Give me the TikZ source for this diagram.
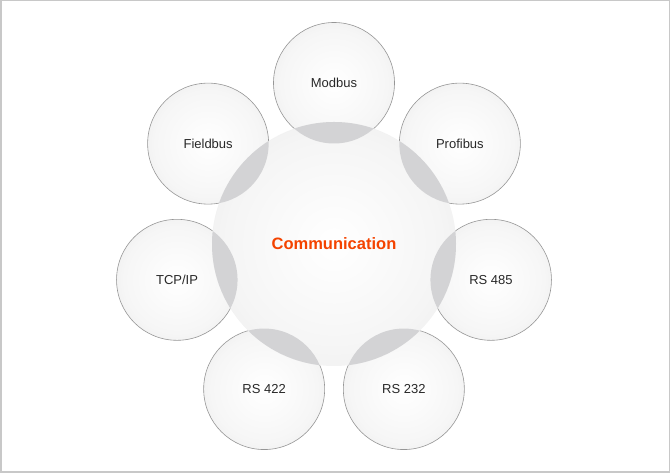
\documentclass[tikz,border=0pt]{standalone}
\usepackage{fontspec}
\setmainfont{Liberation Sans}
\usetikzlibrary{calc}
\definecolor{framegray}{RGB}{200,200,200}
\definecolor{ringgray}{RGB}{150,150,150}
\definecolor{outeredge}{RGB}{231,231,231}
\definecolor{outermid}{RGB}{246,246,246}
\definecolor{centeredge}{RGB}{233,233,233}
\definecolor{centermid}{RGB}{245,245,245}
\definecolor{overlapgray}{RGB}{211,211,213}
\definecolor{labelgray}{RGB}{40,40,40}
\definecolor{commred}{RGB}{244,67,0}
\pgfdeclareradialshading{outerball}{\pgfpoint{0bp}{0bp}}{color(0bp)=(white); color(22bp)=(outermid); color(36bp)=(outeredge); color(50bp)=(outeredge)}
\pgfdeclareradialshading{centerball}{\pgfpoint{0bp}{0bp}}{color(0bp)=(white); color(22bp)=(centermid); color(36bp)=(centeredge); color(50bp)=(centeredge)}
\begin{document}
\begin{tikzpicture}[x=1pt,y=1pt,
  outerc/.style={circle, minimum size=121pt, inner sep=0pt, draw=ringgray, line width=0.6pt,
    shading=outerball, text=labelgray, font=\fontsize{13}{15}\selectfont},
  centerc/.style={circle, minimum size=244pt, inner sep=0pt, shading=centerball},
  commtext/.style={text=commred, font=\fontsize{16.5}{19}\bfseries\selectfont}]
\useasboundingbox (0,0) rectangle (670,473);
\draw[framegray, line width=1.5pt] (0.75,0.75) rectangle (669.25,472.25);
\coordinate (c) at (334,229);
\node[outerc] (modbus)   at ($(c)+(90:161)$)      {Modbus};
\node[outerc] (profibus) at ($(c)+(38.57:161)$)   {Profibus};
\node[outerc] (rs485)    at ($(c)+(-12.86:161)$)  {RS 485};
\node[outerc] (rs232)    at ($(c)+(-64.29:161)$)  {RS 232};
\node[outerc] (rs422)    at ($(c)+(-115.71:161)$) {RS 422};
\node[outerc] (tcpip)    at ($(c)+(-167.14:161)$) {TCP/IP};
\node[outerc] (fieldbus) at ($(c)+(141.43:161)$)  {Fieldbus};
\node[centerc] (comm) at (c) {};
\foreach \n in {modbus,profibus,rs485,rs232,rs422,tcpip,fieldbus}{
  \begin{scope}
    \clip (comm.center) circle (122);
    \fill[overlapgray] (\n.center) circle (60.5);
  \end{scope}
}
\node[commtext] (commlabel) at (comm.center) {Communication};
\end{tikzpicture}
\end{document}
